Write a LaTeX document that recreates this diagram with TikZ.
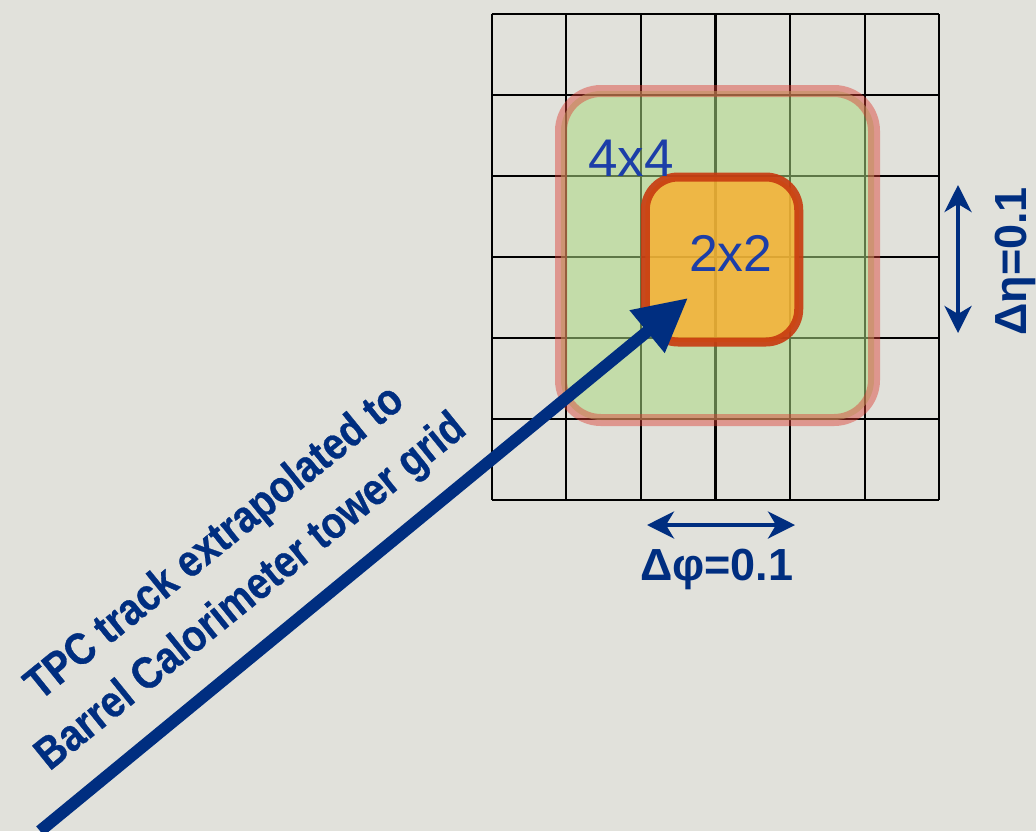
\documentclass[tikz,border=0pt]{standalone}
\usepackage{fontspec}
\setmainfont{Liberation Sans}
\newfontfamily\condfont{Liberation Sans}[FakeStretch=0.865,FakeBold=0.6]
\usetikzlibrary{arrows.meta}
\definecolor{bgc}{RGB}{225,225,219}
\definecolor{navy}{RGB}{0,46,128}
\definecolor{labblue}{RGB}{28,62,168}
\definecolor{greenfill}{RGB}{171,216,128}
\definecolor{halored}{RGB}{220,60,50}
\definecolor{orangefill}{RGB}{248,176,48}
\definecolor{orangeline}{RGB}{200,58,15}
\tikzset{
  gridline/.style={line width=2.2pt, draw=black},
  greenbox/.style={draw=halored, draw opacity=0.45, line width=12pt,
    fill=greenfill, fill opacity=0.55, rounded corners=40pt, inner sep=0pt},
  orangebox/.style={draw=orangeline, draw opacity=0.9, line width=9pt,
    fill=orangefill, fill opacity=0.82, rounded corners=33pt, inner sep=0pt},
  boxlabel/.style={text=labblue, inner sep=0pt},
  track/.style={draw=navy, line width=12pt, -{Triangle[length=53pt,width=52pt]}},
  tracktext/.style={text=navy, inner sep=0pt, font=\condfont\bfseries\fontsize{45}{54}\selectfont},
  dimarrow/.style={draw=navy, line width=4pt, {Stealth[length=27pt,width=27pt,inset=8pt]}-{Stealth[length=27pt,width=27pt,inset=8pt]}},
  dimlabel/.style={text=navy, inner sep=0pt, font=\bfseries\fontsize{45}{54}\selectfont}
}
\begin{document}
\begin{tikzpicture}[x=1pt,y=-1pt]
\useasboundingbox (0,0) rectangle (1036,831);
\fill[bgc] (0,0) rectangle (1036,831);
% tower grid
\foreach \i in {0,...,6} {
  \draw[gridline] (491.7+74.6*\i,14) -- (491.7+74.6*\i,500);
  \draw[gridline] (491.7,14+81*\i) -- (939.3,14+81*\i);
}
% clusters
\node[greenbox, minimum width=313pt, minimum height=329pt] (box4) at (717.5,255.5) {};
\node[orangebox, minimum width=153.5pt, minimum height=165pt] (box2) at (722,259.5) {};
\node[boxlabel, anchor=base west, font=\fontsize{53}{60}\selectfont] (lab4) at (588,176) {4x4};
\node[boxlabel, anchor=base west, font=\fontsize{51.7}{60}\selectfont] (lab2) at (689,271) {2x2};
% track
\coordinate (trackstart) at (40,831);
\coordinate (tracktip) at (688,298);
\draw[track] (trackstart) -- (tracktip);
\node[tracktext, anchor=base, rotate=39] (tl1) at (223,553) {TPC track extrapolated to};
\node[tracktext, anchor=base, rotate=39] (tl2) at (259,602) {Barrel Calorimeter tower grid};
% dimensions
\coordinate (phiL) at (647,525);
\coordinate (phiR) at (795,525);
\draw[dimarrow] (phiL) -- (phiR);
\node[dimlabel, anchor=base] (dphi) at (716.7,580) {Δφ=0.1};
\coordinate (etaT) at (958,185);
\coordinate (etaB) at (958,333);
\draw[dimarrow] (etaT) -- (etaB);
\node[dimlabel, anchor=base, rotate=90] (deta) at (1026,261.5) {Δη=0.1};
\end{tikzpicture}
\end{document}
